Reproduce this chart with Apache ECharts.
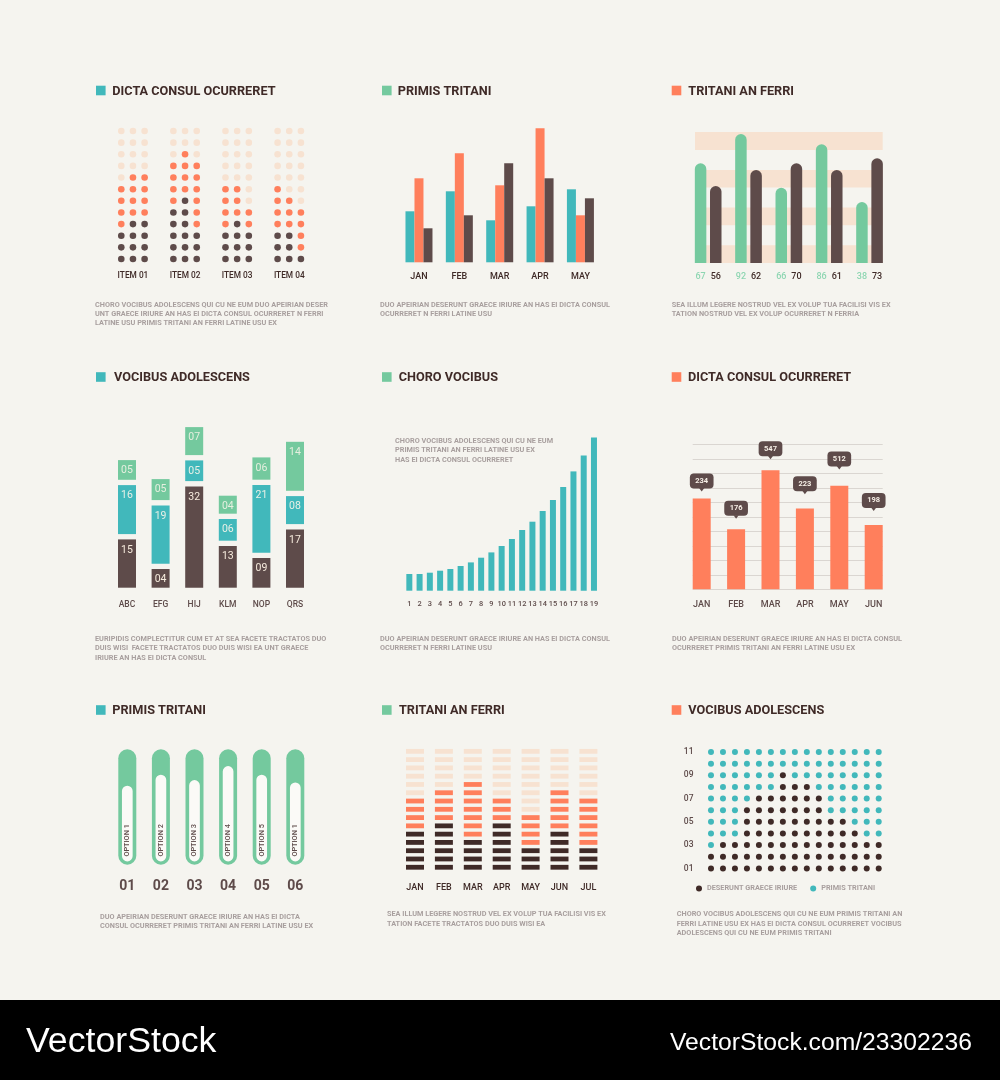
<!DOCTYPE html>
<html>
<head>
<meta charset="utf-8">
<style>html,body{margin:0;padding:0;background:#F5F4EF}#c{width:1000px;height:1080px}</style>
<script src="https://cdn.jsdelivr.net/npm/echarts@6/dist/echarts.min.js"></script>
</head>
<body>
<div id="c"></div>
<script>
// ---- panel 1: dot columns
const dotItems = ['ITEM 01','ITEM 02','ITEM 03','ITEM 04'];
const dotDarkCounts = [[3,4,4],[5,6,3],[3,4,3],[3,3,1]];
const dotOrangeCounts = [[4,4,4],[4,4,6],[4,3,2],[4,3,4]];
const dotRowCount = 12;
// ---- panel 2: grouped bars
const groupMonths = ['JAN','FEB','MAR','APR','MAY'];
const groupTeal = [51,71,42,56,73];
const groupOrange = [84,109,77,134,47];
const groupBrown = [34,47,99,84,64];
// ---- panel 3: rounded bars on stripes
const roundGreen = [99.7,129,75.3,118.7,61];
const roundBrown = [77,93,99.7,93,104.7];
const roundGreenLabels = ['67','92','66','86','38'];
const roundBrownLabels = ['56','62','70','61','73'];
const roundCats = ['a','b','c','d','e'];
const stripeBands = [[0,17.7],[37.7,55.4],[75.4,93],[113,131]];
// ---- panel 4: separated stacks
const stackCats = ['ABC','EFG','HIJ','KLM','NOP','QRS'];
const stackBrown = [48.3,18.7,101.3,41.7,29.7,58.3];
const stackTeal = [49,58.3,20.7,21.7,67.7,28];
const stackGreen = [19.7,21,28,18,22.3,49];
const stackBrownLabels = ['15','04','32','13','09','17'];
const stackTealLabels = ['16','19','05','06','21','08'];
const stackGreenLabels = ['05','05','07','04','06','14'];
// ---- panel 5: growth bars
const growthCats = ['1','2','3','4','5','6','7','8','9','10','11','12','13','14','15','16','17','18','19'];
const growthValues = [16.7,16.7,18,20,21.7,24.7,28.3,33,38.3,44.7,51.7,60.7,69,79.7,90.7,103.7,119.3,135.3,153.3];
// ---- panel 6: bars with callouts
const calloutMonths = ['JAN','FEB','MAR','APR','MAY','JUN'];
const calloutBars = [62.6,41.5,82.1,55.7,71.4,44.3];
const calloutLevels = [69.5,50.7,91.7,67.7,84.7,56];
const calloutLabels = ['234','176','547','223','512','198'];
// ---- panel 7: capsules
const capsuleCats = ['01','02','03','04','05','06'];
const capsuleOptions = ['OPTION 1','OPTION 2','OPTION 3','OPTION 4','OPTION 5','OPTION 1'];
const capsuleInner = [75.7,86.7,81.3,95.3,86.7,79];
const capsuleFull = 115.4;
// ---- panel 8: segment columns
const segMonths = ['JAN','FEB','MAR','APR','MAY','JUN','JUL'];
const segDark = [5,6,4,6,3,5,3];
const segOrange = [4,4,7,3,4,5,6];
const segRowCount = 15;
// ---- panel 9: dot field
const fieldCols = ['1','2','3','4','5','6','7','8','9','10','11','12','13','14','15'];
const fieldRows = ['01','','03','','05','','07','','09','','11'];
const fieldDarkFrom = [1,1,2,4,4,4,5,7,7,0,0];
const fieldDarkTo = [15,15,15,13,12,10,10,9,7,0,0];
// ---- headings and captions
const headings = ['DICTA CONSUL OCURRERET','PRIMIS TRITANI','TRITANI AN FERRI','VOCIBUS ADOLESCENS','CHORO VOCIBUS','DICTA CONSUL OCURRERET','PRIMIS TRITANI','TRITANI AN FERRI','VOCIBUS ADOLESCENS'];
const captions = [
 'CHORO VOCIBUS ADOLESCENS QUI CU NE EUM DUO APEIRIAN DESER\nUNT GRAECE IRIURE AN HAS EI DICTA CONSUL OCURRERET N FERRI\nLATINE USU PRIMIS TRITANI AN FERRI LATINE USU EX',
 'DUO APEIRIAN DESERUNT GRAECE IRIURE AN HAS EI DICTA CONSUL\nOCURRERET N FERRI LATINE USU',
 'SEA ILLUM LEGERE NOSTRUD VEL EX VOLUP TUA FACILISI VIS EX\nTATION NOSTRUD VEL EX VOLUP OCURRERET N FERRIA',
 'EURIPIDIS COMPLECTITUR CUM ET AT SEA FACETE TRACTATOS DUO\nDUIS WISI  FACETE TRACTATOS DUO DUIS WISI EA UNT GRAECE\nIRIURE AN HAS EI DICTA CONSUL',
 'DUO APEIRIAN DESERUNT GRAECE IRIURE AN HAS EI DICTA CONSUL\nOCURRERET N FERRI LATINE USU',
 'DUO APEIRIAN DESERUNT GRAECE IRIURE AN HAS EI DICTA CONSUL\nOCURRERET PRIMIS TRITANI AN FERRI LATINE USU EX',
 'DUO APEIRIAN DESERUNT GRAECE IRIURE AN HAS EI DICTA\nCONSUL OCURRERET PRIMIS TRITANI AN FERRI LATINE USU EX',
 'SEA ILLUM LEGERE NOSTRUD VEL EX VOLUP TUA FACILISI VIS EX\nTATION FACETE TRACTATOS DUO DUIS WISI EA',
 'CHORO VOCIBUS ADOLESCENS QUI CU NE EUM PRIMIS TRITANI AN\nFERRI LATINE USU EX HAS EI DICTA CONSUL OCURRERET VOCIBUS\nADOLESCENS QUI CU NE EUM PRIMIS TRITANI'
];
const insideNote = 'CHORO VOCIBUS ADOLESCENS QUI CU NE EUM\nPRIMIS TRITANI AN FERRI LATINE USU EX\nHAS EI DICTA CONSUL OCURRERET';
const brandLeft = 'VectorStock';
const brandRight = 'VectorStock.com/23302236';

// ---- styles and layout
const TEAL='#41B8BB', GREEN='#74C99E', ORANGE='#FF7F5C', BROWN='#5E4B4A', DARK='#3F2A27', LIGHT='#F7E2D1', BG='#F5F4EF', GREY='#A89F9E';
const FONT='Roboto';
const grids=[], xAxes=[], yAxes=[], series=[], titles=[], graphics=[];
const addGrid=(left,top,width,height)=>{grids.push({left,top,width,height,containLabel:false});return grids.length-1;};
const catX=(g,data,margin,size,weight,color,extra)=>{xAxes.push(Object.assign({type:'category',gridIndex:g,data,axisLine:{show:false},axisTick:{show:false},splitLine:{show:false},
  axisLabel:{margin,interval:0,fontFamily:FONT,fontSize:size,fontWeight:weight,color}},extra||{}));return xAxes.length-1;};
const hiddenCatX=(g,data)=>{xAxes.push({type:'category',gridIndex:g,data,show:false});return xAxes.length-1;};
const hiddenValX=(g,min,max)=>{xAxes.push({type:'value',gridIndex:g,min,max,show:false,position:'top'});return xAxes.length-1;};
const hiddenValY=(g,min,max)=>{yAxes.push({type:'value',gridIndex:g,min,max,show:false});return yAxes.length-1;};

// panel 1
{
  const g=addGrid(106.9,125.2,208.4,139.6);
  const xc=catX(g,dotItems,7.5,8.3,500,DARK), xv=hiddenValX(g,0,4), y=hiddenValY(g,-0.5,dotRowCount-0.5);
  const dark=[],orange=[],light=[];
  dotItems.forEach((_,i)=>[0,1,2].forEach(c=>{
    const px=i+0.5+(c-1)*0.224, d=dotDarkCounts[i][c], o=dotOrangeCounts[i][c];
    for(let r=0;r<dotRowCount;r++){(r<d?dark:r<d+o?orange:light).push([px,r]);}
  }));
  [[light,LIGHT],[orange,ORANGE],[dark,BROWN]].forEach(([data,color])=>series.push({type:'scatter',xAxisIndex:xv,yAxisIndex:y,data,symbolSize:6.6,itemStyle:{color,opacity:1},silent:true}));
}
// panel 2
{
  const g=addGrid(398.8,122.3,201.8,140);
  const x=catX(g,groupMonths,10,9,500,DARK), y=hiddenValY(g,0,140);
  [[groupTeal,TEAL],[groupOrange,ORANGE],[groupBrown,BROWN]].forEach(([data,color])=>series.push({type:'bar',xAxisIndex:x,yAxisIndex:y,data,barWidth:9,barGap:0,itemStyle:{color}}));
}
// panel 3
{
  const gs=addGrid(695,132,187.7,131);
  const xs=hiddenValX(gs,0,1), ys=hiddenValY(gs,0,131);
  series.push({type:'custom',xAxisIndex:xs,yAxisIndex:ys,data:stripeBands,z:1,silent:true,encode:{y:[0,1]},
    renderItem:(p,api)=>{const a=api.coord([0,api.value(1)]),b=api.coord([1,api.value(0)]);
      return {type:'rect',shape:{x:a[0],y:a[1],width:b[0]-a[0],height:b[1]-a[1]},style:{fill:LIGHT}};}});
  const g=addGrid(688,132,201.7,131);
  const x=hiddenCatX(g,roundCats), y=hiddenValY(g,0,131);
  const lab=(arr,color)=>({show:true,position:'bottom',distance:9.5,fontFamily:FONT,fontSize:9,fontWeight:500,color,formatter:p=>arr[p.dataIndex]});
  series.push({type:'bar',xAxisIndex:x,yAxisIndex:y,data:roundGreen,barWidth:11.5,barGap:'32%',z:3,itemStyle:{color:GREEN,borderRadius:[6,6,0,0]},label:lab(roundGreenLabels,'#8ED6B2')});
  series.push({type:'bar',xAxisIndex:x,yAxisIndex:y,data:roundBrown,barWidth:11.5,barGap:'32%',z:3,itemStyle:{color:BROWN,borderRadius:[6,6,0,0]},label:lab(roundBrownLabels,DARK)});
}
// panel 4
{
  const g=addGrid(110.2,422.7,201.6,165);
  const x=catX(g,stackCats,12.5,8.5,500,BROWN), y=hiddenValY(g,0,165);
  const gap=stackCats.map(()=>5.3);
  const seg=(data,color,labels,tc)=>({type:'bar',stack:'s',xAxisIndex:x,yAxisIndex:y,data,barWidth:18,itemStyle:{color},
     label:{show:true,position:'insideTop',distance:5,fontFamily:FONT,fontSize:10.5,fontWeight:400,color:tc,formatter:p=>labels[p.dataIndex]}});
  const sp=()=>({type:'bar',stack:'s',xAxisIndex:x,yAxisIndex:y,data:gap,barWidth:18,silent:true,itemStyle:{color:'transparent'}});
  series.push(seg(stackBrown,BROWN,stackBrownLabels,'#F6EBDD'),sp(),seg(stackTeal,TEAL,stackTealLabels,'#E8F0E6'),sp(),seg(stackGreen,GREEN,stackGreenLabels,'#E6EFDF'));
}
// panel 5
{
  const g=addGrid(404.2,430.7,194.9,160);
  const x=catX(g,growthCats,10,7.4,500,BROWN), y=hiddenValY(g,0,160);
  series.push({type:'bar',xAxisIndex:x,yAxisIndex:y,data:growthValues,barWidth:6,itemStyle:{color:TEAL}});
}
// panel 6
{
  const gl=addGrid(692.7,444.3,190,145);
  xAxes.push({type:'value',gridIndex:gl,min:0,max:1,show:false});
  yAxes.push({type:'value',gridIndex:gl,min:0,max:100,interval:10,axisLine:{show:false},axisTick:{show:false},axisLabel:{show:false},splitLine:{show:true,lineStyle:{color:'#DAD6D1',width:1}}});
  const g=addGrid(684.5,444.3,206.4,145);
  const x=catX(g,calloutMonths,11,9,500,BROWN), y=hiddenValY(g,0,100);
  series.push({type:'bar',xAxisIndex:x,yAxisIndex:y,data:calloutBars,barWidth:18,z:3,itemStyle:{color:ORANGE}});
  series.push({type:'custom',xAxisIndex:x,yAxisIndex:y,z:4,silent:true,clip:false,data:calloutLevels.map((v,i)=>[i,v]),
    renderItem:(p,api)=>{const c=api.coord([api.value(0),api.value(1)]),w=23.7,h=15;
      return {type:'group',children:[
        {type:'rect',shape:{x:c[0]-w/2,y:c[1]-h,width:w,height:h,r:4},style:{fill:BROWN}},
        {type:'polygon',shape:{points:[[c[0]-2.6,c[1]-0.5],[c[0]+2.6,c[1]-0.5],[c[0],c[1]+3]]},style:{fill:BROWN}},
        {type:'text',x:c[0],y:c[1]-h/2,style:{text:calloutLabels[p.dataIndex],x:0,y:0,align:'center',verticalAlign:'middle',fontFamily:FONT,fontSize:7.5,fontWeight:700,fill:'#F6EFE6'}}
      ]};}});
}
// panel 7
{
  const g=addGrid(110.5,749.3,201.6,capsuleFull);
  const x=catX(g,capsuleCats,15,14,700,BROWN), y=hiddenValY(g,0,capsuleFull);
  series.push({type:'custom',xAxisIndex:x,yAxisIndex:y,silent:true,data:capsuleInner.map((v,i)=>[i,v]),
    renderItem:(p,api)=>{const i=api.value(0),t=api.coord([i,capsuleFull]),b=api.coord([i,0]),top=api.coord([i,api.value(1)+3.3]),bot=api.coord([i,3.3]),mid=api.coord([i,24.3]);
      return {type:'group',children:[
        {type:'rect',shape:{x:t[0]-9,y:t[1],width:18,height:b[1]-t[1],r:9},style:{fill:GREEN}},
        {type:'rect',shape:{x:t[0]-5.35,y:top[1],width:10.7,height:bot[1]-top[1],r:5.35},style:{fill:'#FBFAF7'}},
        {type:'text',x:mid[0],y:mid[1],rotation:Math.PI/2,style:{text:capsuleOptions[p.dataIndex],x:0,y:0,align:'center',verticalAlign:'middle',fontFamily:FONT,fontSize:7.3,fontWeight:500,fill:BROWN}}
      ]};}});
}
// panel 8
{
  const g=addGrid(400.55,747.2,202.3,124.2);
  const x=catX(g,segMonths,11.5,9,500,DARK), y=hiddenValY(g,-0.5,segRowCount-0.5);
  const dark=[],orange=[],light=[];
  segMonths.forEach((_,i)=>{for(let r=0;r<segRowCount;r++){(r<segDark[i]?dark:r<segDark[i]+segOrange[i]?orange:light).push([i,r]);}});
  [[light,LIGHT],[orange,ORANGE],[dark,DARK]].forEach(([data,color])=>series.push({type:'scatter',xAxisIndex:x,yAxisIndex:y,data,symbol:'rect',symbolSize:[18,4.8],itemStyle:{color,opacity:1},silent:true}));
}
// panel 9
{
  const g=addGrid(705,746.2,179.7,128);
  const x=hiddenCatX(g,fieldCols);
  yAxes.push({type:'category',gridIndex:g,data:fieldRows,axisLine:{show:false},axisTick:{show:false},splitLine:{show:false},axisLabel:{margin:11.5,interval:0,fontFamily:FONT,fontSize:8.5,fontWeight:500,color:BROWN}});
  const y=yAxes.length-1, dark=[], teal=[];
  fieldRows.forEach((_,r)=>fieldCols.forEach((_,c)=>{const n=c+1;(n>=fieldDarkFrom[r]&&n<=fieldDarkTo[r]&&fieldDarkFrom[r]>0?dark:teal).push([c,r]);}));
  series.push({type:'scatter',name:'DESERUNT GRAECE IRIURE',xAxisIndex:x,yAxisIndex:y,data:dark,symbolSize:6,itemStyle:{color:DARK,opacity:1},silent:true});
  series.push({type:'scatter',name:'PRIMIS TRITANI',xAxisIndex:x,yAxisIndex:y,data:teal,symbolSize:6,itemStyle:{color:TEAL,opacity:1},silent:true});
}

// headings
const headRows=[90.5,377,710];
const squareX=[96,382,671.7], headX=[[112.3,397.7,688.3],[114,398.7,688],[112.3,399,688.3]];
const squareColors=[TEAL,GREEN,ORANGE];
headings.forEach((t,i)=>{const r=Math.floor(i/3),c=i%3;
  graphics.push({type:'rect',shape:{x:squareX[c],y:headRows[r]-4.8,width:9.6,height:9.6},style:{fill:squareColors[c]}});
  titles.push({text:t,left:headX[r][c],top:headRows[r]-7,padding:0,textStyle:{fontFamily:FONT,fontSize:12.7,fontWeight:700,color:DARK,lineHeight:16}});
});
// captions
const capPos=[[95,300.3],[380,300.3],[671.7,300.3],[95,634.6],[380,634.6],[672,634.6],[100,912.3],[387,910],[676.7,910]];
const capStyle={fontFamily:FONT,fontSize:7.3,fontWeight:700,color:GREY,lineHeight:9.35};
captions.forEach((t,i)=>titles.push({text:t,left:capPos[i][0],top:capPos[i][1],padding:0,textStyle:capStyle}));
titles.push({text:insideNote,left:395,top:436.6,padding:0,textStyle:capStyle});
// footer
graphics.unshift({type:'rect',shape:{x:0,y:1000,width:1000,height:80},style:{fill:'#000'}});
titles.push({text:brandLeft,left:26,top:1024,padding:0,textStyle:{fontFamily:'Liberation Sans',fontSize:35.7,fontWeight:400,color:'#fff'}});
titles.push({text:brandRight,left:670,top:1031,padding:0,textStyle:{fontFamily:'Liberation Sans',fontSize:24.7,fontWeight:400,color:'#fff'}});

const chart=echarts.init(document.getElementById('c'),null,{width:1000,height:1080,renderer:'canvas'});
chart.setOption({
  animation:false,backgroundColor:BG,textStyle:{fontFamily:FONT},
  title:titles,grid:grids,xAxis:xAxes,yAxis:yAxes,series,
  graphic:{elements:graphics},
  legend:{data:['DESERUNT GRAECE IRIURE','PRIMIS TRITANI'],left:696,top:885,padding:0,itemWidth:6,itemHeight:6,itemGap:13,icon:'circle',selectedMode:false,
    textStyle:{fontFamily:FONT,fontSize:7.3,fontWeight:700,color:GREY,padding:[0,0,0,0]}}
});
</script>
</body>
</html>
